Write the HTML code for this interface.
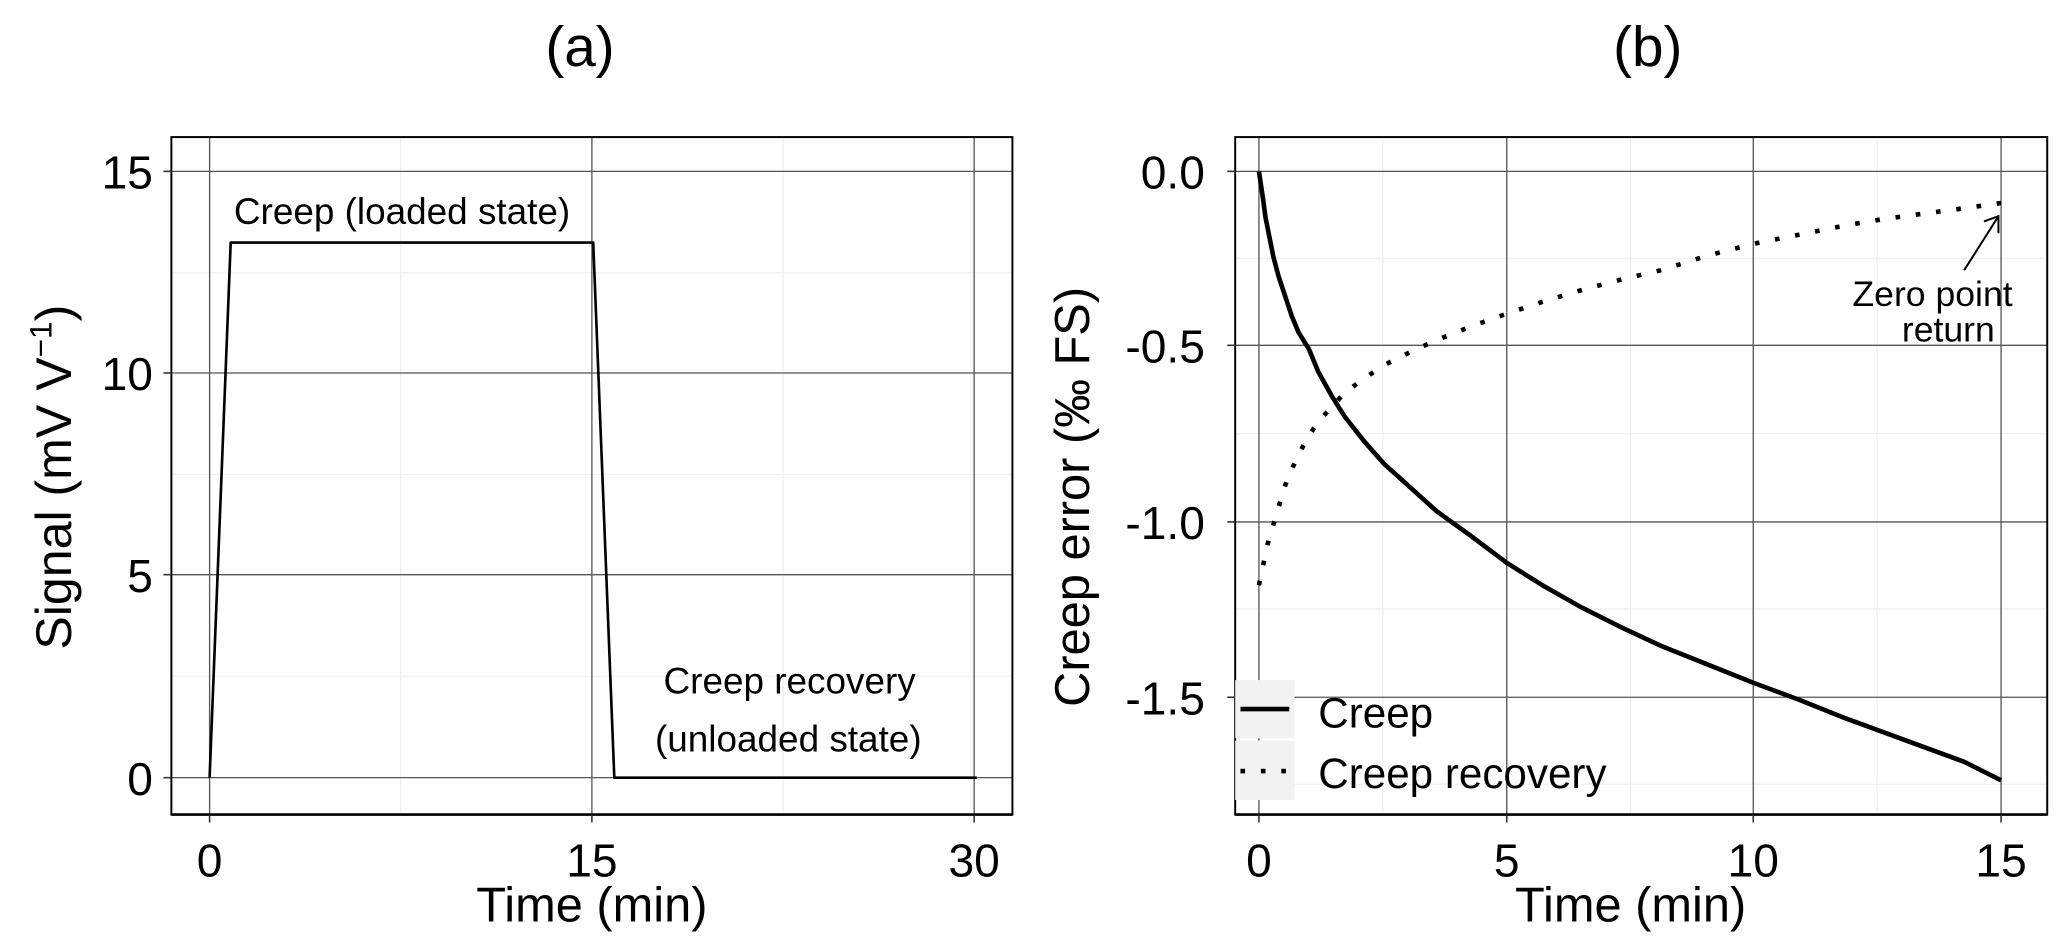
<!DOCTYPE html>
<html><head><meta charset="utf-8"><style>
html,body{margin:0;padding:0;background:#fff;}
svg{display:block;}
text{font-family:"Liberation Sans",Arial,sans-serif;fill:#000;}
</style></head><body>
<svg width="2067" height="949" viewBox="0 0 1568 720" preserveAspectRatio="none" xmlns="http://www.w3.org/2000/svg">
<rect width="1568" height="720" fill="#fff"/>
<text x="440" y="50" font-size="43" text-anchor="middle">(a)</text>
<text x="1250" y="50" font-size="43" text-anchor="middle">(b)</text>

<!-- Panel a -->
<g stroke-width="1">
<line x1="304" y1="104" x2="304" y2="618" stroke="#f0f0f0"/>
<line x1="594" y1="104" x2="594" y2="618" stroke="#f0f0f0"/>
<line x1="130" y1="207" x2="768" y2="207" stroke="#f0f0f0"/>
<line x1="130" y1="360" x2="768" y2="360" stroke="#f0f0f0"/>
<line x1="130" y1="513" x2="768" y2="513" stroke="#f0f0f0"/>
<g stroke="#555">
<line x1="130" y1="130" x2="768" y2="130"/>
<line x1="130" y1="283" x2="768" y2="283"/>
<line x1="130" y1="436" x2="768" y2="436"/>
<line x1="130" y1="590" x2="768" y2="590"/>
<line x1="159" y1="104" x2="159" y2="618"/>
<line x1="449" y1="104" x2="449" y2="618"/>
<line x1="739" y1="104" x2="739" y2="618"/>
</g>
</g>
<rect x="130" y="104" width="638" height="514" fill="none" stroke="#000" stroke-width="1.5"/>
<line x1="130" y1="618" x2="768" y2="618" stroke="#000" stroke-width="2"/>
<g stroke="#333" stroke-width="1.2">
<line x1="124" y1="130" x2="130" y2="130"/><line x1="124" y1="283" x2="130" y2="283"/>
<line x1="124" y1="436" x2="130" y2="436"/><line x1="124" y1="590" x2="130" y2="590"/>
<line x1="159" y1="618" x2="159" y2="624"/><line x1="449" y1="618" x2="449" y2="624"/><line x1="739" y1="618" x2="739" y2="624"/>
</g>
<g font-size="35" text-anchor="end">
<text x="116" y="143">15</text><text x="116" y="296">10</text><text x="116" y="449">5</text><text x="116" y="603">0</text>
</g>
<g font-size="35" text-anchor="middle">
<text x="159" y="665">0</text><text x="449" y="665">15</text><text x="739" y="665">30</text>
</g>
<text x="449" y="699" font-size="37" text-anchor="middle">Time (min)</text>
<text transform="translate(54,362) rotate(-90)" font-size="38" text-anchor="middle">Signal (mV V<tspan font-size="24" dy="-15">−1</tspan><tspan dy="15">)</tspan></text>
<polyline points="159,590 175,184 450,184 466,590 741,590" fill="none" stroke="#000" stroke-width="2" stroke-linejoin="round"/>
<text x="305" y="170" font-size="28" text-anchor="middle">Creep (loaded state)</text>
<text x="599" y="526" font-size="28" text-anchor="middle">Creep recovery</text>
<text x="598" y="570" font-size="28" text-anchor="middle">(unloaded state)</text>

<!-- Panel b -->
<g stroke-width="1">
<line x1="1049" y1="104" x2="1049" y2="618" stroke="#f0f0f0"/>
<line x1="1237" y1="104" x2="1237" y2="618" stroke="#f0f0f0"/>
<line x1="1424" y1="104" x2="1424" y2="618" stroke="#f0f0f0"/>
<line x1="937" y1="196" x2="1553" y2="196" stroke="#f0f0f0"/>
<line x1="937" y1="329" x2="1553" y2="329" stroke="#f0f0f0"/>
<line x1="937" y1="462" x2="1553" y2="462" stroke="#f0f0f0"/>
<line x1="937" y1="595" x2="1553" y2="595" stroke="#f0f0f0"/>
<g stroke="#555">
<line x1="937" y1="130" x2="1553" y2="130"/>
<line x1="937" y1="262" x2="1553" y2="262"/>
<line x1="937" y1="396" x2="1553" y2="396"/>
<line x1="937" y1="529" x2="1553" y2="529"/>
<line x1="955" y1="104" x2="955" y2="618"/>
<line x1="1143" y1="104" x2="1143" y2="618"/>
<line x1="1330" y1="104" x2="1330" y2="618"/>
<line x1="1518" y1="104" x2="1518" y2="618"/>
</g>
</g>
<rect x="937" y="104" width="616" height="514" fill="none" stroke="#000" stroke-width="1.5"/>
<line x1="937" y1="618" x2="1553" y2="618" stroke="#000" stroke-width="2"/>
<g stroke="#333" stroke-width="1.2">
<line x1="931" y1="130" x2="937" y2="130"/><line x1="931" y1="262" x2="937" y2="262"/>
<line x1="931" y1="396" x2="937" y2="396"/><line x1="931" y1="529" x2="937" y2="529"/>
<line x1="955" y1="618" x2="955" y2="624"/><line x1="1143" y1="618" x2="1143" y2="624"/>
<line x1="1330" y1="618" x2="1330" y2="624"/><line x1="1518" y1="618" x2="1518" y2="624"/>
</g>
<g font-size="35" text-anchor="end">
<text x="914" y="143">0.0</text><text x="914" y="275">-0.5</text><text x="914" y="409">-1.0</text><text x="914" y="542">-1.5</text>
</g>
<g font-size="35" text-anchor="middle">
<text x="955" y="665">0</text><text x="1143" y="665">5</text><text x="1330" y="665">10</text><text x="1518" y="665">15</text>
</g>
<text x="1237" y="699" font-size="37" text-anchor="middle">Time (min)</text>
<text transform="translate(826,377) rotate(-90)" font-size="37" text-anchor="middle">Creep error (‰ FS)</text>

<polyline points="955,130 958,150 960,165 963,180 966,195 970,210 975,225 980,240 985,252 993,265 1000,282 1010,300 1020,316 1035,335 1050,352 1070,370 1090,388 1115,406 1143,427 1170,444 1200,461 1230,476 1260,490 1295,504 1330,518 1365,531 1400,545 1430,556 1460,567 1490,578 1518,592" fill="none" stroke="#000" stroke-width="3.5" stroke-linejoin="round"/>
<polyline points="955,444 958,430 960,420 963,407 967,395 971,381 975,368 980,356 985,345 992,332 1000,320 1010,309 1020,298 1035,287 1050,277 1070,267 1090,258 1115,248 1143,238 1170,229 1200,220 1230,212 1260,205 1295,194 1330,185 1365,178 1400,171 1430,166 1460,162 1490,158 1518,154" fill="none" stroke="#000" stroke-width="3.5" stroke-dasharray="3.5 12"/>

<line x1="1490" y1="205" x2="1516" y2="164" stroke="#000" stroke-width="1.5"/>
<polyline points="1505,168 1516,164 1516,177" fill="none" stroke="#000" stroke-width="1.5"/>
<text x="1466" y="232" font-size="27" text-anchor="middle">Zero point</text>
<text x="1478" y="259" font-size="27" text-anchor="middle">return</text>

<rect x="937" y="516" width="45" height="44" fill="#f2f2f2"/>
<rect x="937" y="562" width="45" height="45" fill="#f2f2f2"/>
<line x1="941" y1="538" x2="978" y2="538" stroke="#000" stroke-width="3.5"/>
<line x1="941" y1="585" x2="978" y2="585" stroke="#000" stroke-width="3.5" stroke-dasharray="3.5 12"/>
<text x="1000" y="552" font-size="32">Creep</text>
<text x="1000" y="598" font-size="32">Creep recovery</text>
</svg>
</body></html>
